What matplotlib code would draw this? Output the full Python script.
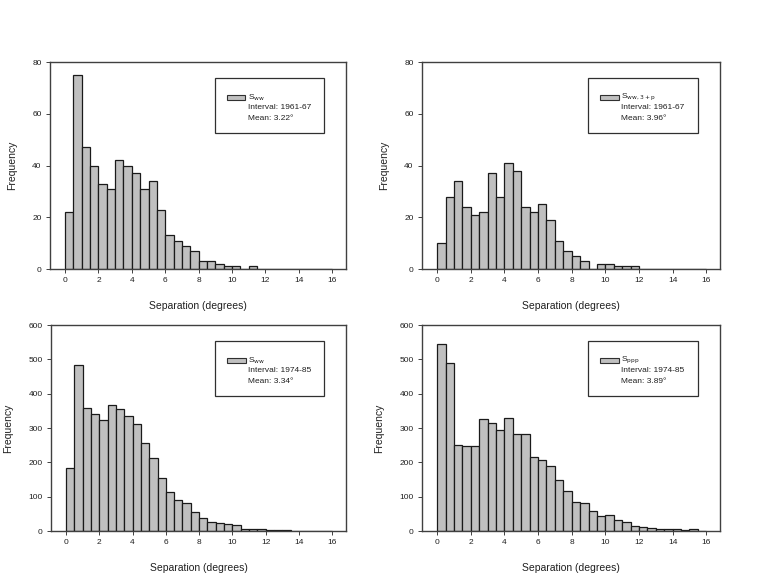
import matplotlib
matplotlib.use("Agg")
import matplotlib.pyplot as plt
from matplotlib.patches import Rectangle
import numpy as np

plt.rcParams['font.family'] = ['Liberation Sans', 'DejaVu Sans']

bin_edges = np.arange(0, 16.5, 0.5)
xticks = [0, 2, 4, 6, 8, 10, 12, 14, 16]

freq_ww_6167 = [22, 75, 47, 40, 33, 31, 42, 40, 37, 31, 34, 23, 13, 11, 9, 7,
                3, 3, 2, 1, 1, 0, 1, 0, 0, 0, 0, 0, 0, 0, 0, 0]
freq_ww3p_6167 = [10, 28, 34, 24, 21, 22, 37, 28, 41, 38, 24, 22, 25, 19, 11, 7,
                  5, 3, 0, 2, 2, 1, 1, 1, 0, 0, 0, 0, 0, 0, 0, 0]
freq_ww_7485 = [183, 483, 358, 340, 324, 367, 355, 335, 311, 257, 212, 154, 115, 90, 82, 56,
                38, 27, 24, 21, 17, 7, 7, 6, 2, 3, 3, 1, 1, 0, 1, 0]
freq_ppp_7485 = [545, 488, 250, 247, 249, 325, 316, 293, 329, 283, 283, 217, 208, 188, 150, 117,
                 85, 83, 59, 43, 47, 32, 26, 15, 12, 10, 7, 5, 5, 3, 6, 0]

series_labels = [r"S$_{\mathrm{ww}}$", r"S$_{\mathrm{ww,3+p}}$", r"S$_{\mathrm{ww}}$", r"S$_{\mathrm{ppp}}$"]
intervals = ["Interval: 1961-67", "Interval: 1961-67", "Interval: 1974-85", "Interval: 1974-85"]
means = ["Mean: 3.22°", "Mean: 3.96°", "Mean: 3.34°", "Mean: 3.89°"]
ylims = [(0, 80), (0, 80), (0, 600), (0, 600)]
yticks = [[0, 20, 40, 60, 80], [0, 20, 40, 60, 80],
          [0, 100, 200, 300, 400, 500, 600], [0, 100, 200, 300, 400, 500, 600]]
data = [freq_ww_6167, freq_ww3p_6167, freq_ww_7485, freq_ppp_7485]

fig = plt.figure(figsize=(7.63, 5.78), dpi=100)
positions = [
    [0.0655, 0.5346, 0.388, 0.358],
    [0.5531, 0.5346, 0.3906, 0.358],
    [0.0668, 0.0813, 0.3866, 0.3564],
    [0.5531, 0.0813, 0.3906, 0.3564],
]
spine_col = "#404040"
for i in range(4):
    ax = fig.add_axes(positions[i])
    ax.bar(bin_edges[:-1], data[i], width=0.5, align='edge', color="#c0c0c0",
           edgecolor="#1a1a1a", linewidth=0.9)
    ax.set_xlim(-0.9, 16.82)
    ax.set_ylim(*ylims[i])
    ax.set_xticks(xticks)
    ax.set_yticks(yticks[i])
    for s in ax.spines.values():
        s.set_color(spine_col)
        s.set_linewidth(1.0)
    ax.tick_params(axis='both', labelsize=6, length=3, width=0.7, color=spine_col,
                   direction='out', pad=3, labelcolor="#202020")
    ax.set_xlabel("Separation (degrees)", fontsize=7.5, labelpad=12, color="#202020")
    ax.set_ylabel("Frequency", fontsize=7.5, labelpad=11, color="#202020")
    # legend box
    ax.add_patch(Rectangle((0.556, 0.655), 0.369, 0.268, transform=ax.transAxes,
                           facecolor="white", edgecolor="#303030", linewidth=0.9, zorder=5))
    ax.add_patch(Rectangle((0.597, 0.817), 0.063, 0.022, transform=ax.transAxes,
                           facecolor="#c0c0c0", edgecolor="#303030", linewidth=0.8, zorder=6))
    ax.text(0.668, 0.828, series_labels[i], transform=ax.transAxes, fontsize=6,
            va='center', ha='left', zorder=7, color="#202020")
    ax.text(0.668, 0.78, intervals[i], transform=ax.transAxes, fontsize=6,
            va='center', ha='left', zorder=7, color="#202020")
    ax.text(0.668, 0.727, means[i], transform=ax.transAxes, fontsize=6,
            va='center', ha='left', zorder=7, color="#202020")

fig.savefig("out.png", dpi=100)
